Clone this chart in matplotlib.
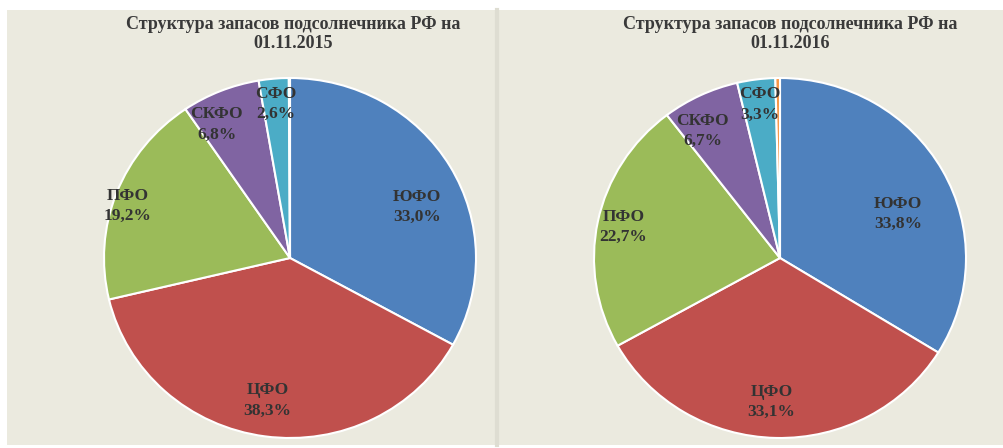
import numpy as np
import matplotlib.pyplot as plt
from matplotlib.patches import Rectangle

# данные
regions = ["ЮФО", "ЦФО", "ПФО", "СКФО", "СФО", ""]
share_2015 = [33.0, 38.3, 19.2, 6.8, 2.6, 0.1]
share_2016 = [33.8, 33.1, 22.7, 6.7, 3.3, 0.4]
titles = ["Структура запасов подсолнечника РФ на\n01.11.2015",
          "Структура запасов подсолнечника РФ на\n01.11.2016"]

colors = ["#4F81BD", "#C0504D", "#9BBB59", "#8064A2", "#4BACC6", "#F79646"]
# расстояние подписи от центра и сдвиг угла (градусы)
label_dist = [[0.74, 0.80, 0.92, 0.84, 0.86, 0],
              [0.68, 0.80, 0.86, 0.82, 0.86, 0]]
label_shift = [[-8, -1, 3, 6, 0, 0],
               [-8, -2, 0, 5, 0, 0]]

W, H = 1004, 448
fig = plt.figure(figsize=(W / 100, H / 100), dpi=100, facecolor="white")
fig.patches.append(Rectangle((7 / W, 3 / H), 1 - 7 / W, (H - 13) / H,
                             transform=fig.transFigure, facecolor="#EBEADF",
                             edgecolor="none", zorder=-10))
# разделитель
fig.add_artist(plt.Line2D([497 / W, 497 / W], [3 / H, 438 / H],
                          transform=fig.transFigure, color="#DEDDD2", lw=3,
                          zorder=-5))

centers = [290, 780]
title_x = [293, 790]
rx, ry = 186, 180
cy = 258

for i, data in enumerate([share_2015, share_2016]):
    cx = centers[i]
    ax = fig.add_axes([(cx - rx) / W, (H - cy - ry) / H, 2 * rx / W, 2 * ry / H])
    wedges, _ = ax.pie(data, colors=colors, startangle=90, counterclock=False,
                       wedgeprops=dict(edgecolor="white", linewidth=1.5))
    ax.set_aspect("auto")
    ax.set_xlim(-1, 1)
    ax.set_ylim(-1, 1)
    ax.axis("off")
    for j, w in enumerate(wedges):
        if not regions[j]:
            continue
        ang = np.deg2rad((w.theta1 + w.theta2) / 2 + label_shift[i][j])
        d = label_dist[i][j]
        ax.text(d * np.cos(ang), d * np.sin(ang),
                "%s\n%s%%" % (regions[j], ("%.1f" % data[j]).replace(".", ",")),
                ha="center", va="center", fontsize=12.5, fontweight="bold",
                family="Liberation Serif", color="#333333", linespacing=1.35)
    fig.text(title_x[i] / W, 1 - 34 / H, titles[i], ha="center", va="center",
             fontsize=13, fontweight="bold", family="Liberation Serif",
             color="#3a3a3a", linespacing=1.15)

fig.savefig("out.png", dpi=100, facecolor="white")
